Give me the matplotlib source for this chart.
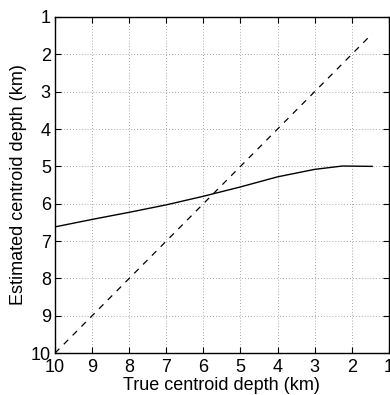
import matplotlib
matplotlib.use("Agg")
import matplotlib.pyplot as plt

plt.rcParams['font.family'] = ['Liberation Sans', 'DejaVu Sans']

# reference line (estimated == true)
ref_x = [10, 1.45]
ref_y = [10, 1.45]

# estimated centroid depth vs true centroid depth
true_depth = [10, 9, 8, 7, 6, 5, 4, 3, 2.25, 1.45]
est_depth = [6.62, 6.42, 6.23, 6.03, 5.8, 5.55, 5.28, 5.08, 4.99, 5.0]

ticks = list(range(1, 11))

fig = plt.figure(figsize=(3.9, 3.95), dpi=100)
ax = fig.add_axes([0.141, 0.106, 0.856, 0.851])

ax.plot(ref_x, ref_y, color='black', linestyle=(0, (5, 5)), linewidth=0.9)
ax.plot(true_depth, est_depth, color='black', linewidth=1.0)

ax.set_xlim(10, 1)
ax.set_ylim(10, 1)
ax.set_xticks(ticks)
ax.set_yticks(ticks)
ax.grid(True, linestyle=(0, (1, 2.5)), color='#888888', linewidth=0.6)
ax.tick_params(direction='in', top=True, right=True, labelsize=13, length=4)
ax.tick_params(axis='x', pad=4)
ax.tick_params(axis='y', pad=3)
for s in ax.spines.values():
    s.set_linewidth(1.0)

ax.set_xlabel('True centroid depth (km)', fontsize=13, labelpad=1)
ax.set_ylabel('Estimated centroid depth (km)', fontsize=13, labelpad=3)

fig.savefig('out.png', dpi=100)
